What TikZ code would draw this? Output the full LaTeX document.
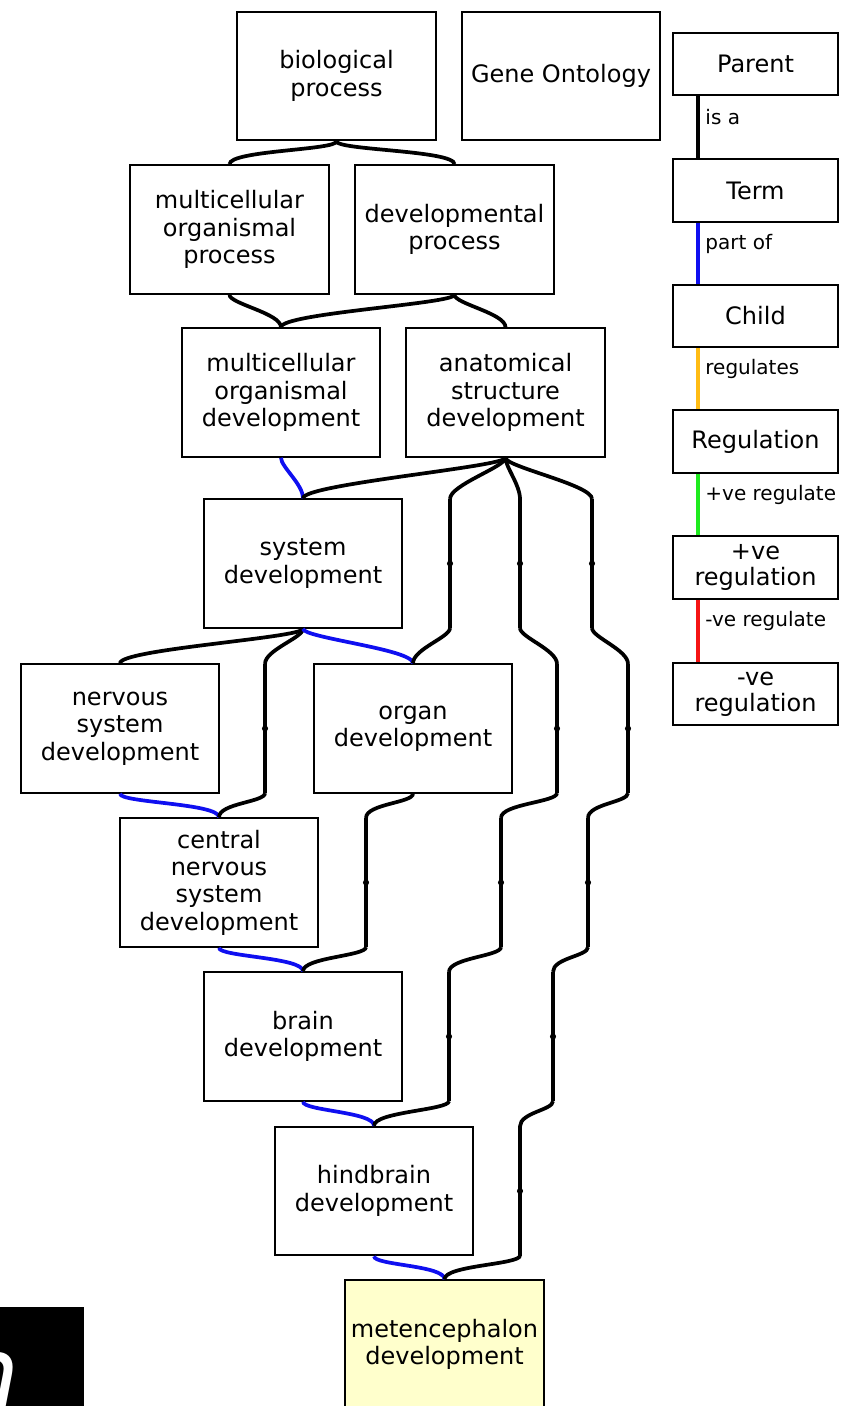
\documentclass[tikz,border=0pt]{standalone}
\usepackage{fontspec}
\setmainfont{DejaVu Sans}
\usepackage{tikz}
\usetikzlibrary{calc}
\definecolor{partblue}{RGB}{15,15,240}
\definecolor{regorange}{RGB}{255,188,20}
\definecolor{posgreen}{RGB}{30,235,30}
\definecolor{negred}{RGB}{245,20,20}
\definecolor{metyellow}{RGB}{255,255,204}
\tikzstyle{term}=[draw, line width=1.4pt, fill=white, align=center, inner sep=0pt, minimum width=149pt, minimum height=96.5pt, font=\fontsize{18}{20.5}\selectfont]
\tikzstyle{legendbox}=[term, minimum width=123.5pt, minimum height=47pt, font=\fontsize{18}{19.5}\selectfont]
\tikzstyle{dummy}=[inner sep=0pt, minimum width=0pt, minimum height=96.5pt]
\tikzstyle{edge}=[draw, line width=2.8pt, to path={.. controls ($(\tikztostart)+(0,9)$) and ($(\tikztotarget)+(0,-14)$) .. (\tikztotarget)}]
\tikzstyle{note}=[anchor=west, inner sep=0pt, font=\fontsize{15}{17}\selectfont]

\begin{document}
\begin{tikzpicture}[x=0.75pt, y=-0.75pt]
		\useasboundingbox (0,0) rectangle (848,1406);
		% First we draw the terms
		\foreach \pos/\label/\name in {
			{(336.5,76)/bio/biological\\process}, {(561,76)/go/Gene Ontology},
			{(229.5,229.5)/mop/multicellular\\organismal\\process}, {(454.5,229.5)/dev/developmental\\process},
			{(281,392.5)/mod/multicellular\\organismal\\development}, {(505.5,392.5)/asd/anatomical\\structure\\development},
			{(303,563.5)/sd/system\\development},
			{(120,728.5)/nsd/nervous\\system\\development}, {(413,728.5)/od/organ\\development},
			{(219,882.5)/cnsd/central\\nervous\\system\\development},
			{(303,1036.5)/bd/brain\\development},
			{(374,1191)/hd/hindbrain\\development}}
		\node[term] (\label) at \pos {\name};
		
		\node[term, fill=metyellow] (md) at (444.5,1344.5) {metencephalon\\development};
		
		% the key on the right
		\foreach \pos/\label/\name in {
			{(755.5,64)/kparent/Parent}, {(755.5,190.5)/kterm/Term}, {(755.5,316)/kchild/Child},
			{(755.5,441.5)/kreg/Regulation}, {(755.5,567.5)/kpos/+ve\\regulation}, {(755.5,694)/kneg/-ve\\regulation}}
		\node[legendbox] (\label) at \pos {\name};
		
		\foreach \source/\dest/\col/\rel in {
			kparent/kterm/black/is a, kterm/kchild/partblue/part of, kchild/kreg/regorange/regulates,
			kreg/kpos/posgreen/+ve regulate, kpos/kneg/negred/-ve regulate}
		\path[draw=\col, line width=2.8pt] ($(\source.south west)+(26,0)$) -- node[note, pos=0.34, xshift=4pt] {\rel} ($(\dest.north west)+(26,0)$);
		
		% dummy points where the long edges cross a rank
		\foreach \pos/\label in {
			{(450,563.5)/ao3}, {(520,563.5)/ah3}, {(592,563.5)/am3},
			{(265,728.5)/sc4}, {(557,728.5)/ah4}, {(628,728.5)/am4},
			{(366,882.5)/ob5}, {(501,882.5)/ah5}, {(588,882.5)/am5},
			{(449,1036.5)/ah6}, {(553,1036.5)/am6}, {(520,1191)/am7}}
		\node[dummy] (\label) at \pos {};
		
		% Connect terms with edges
		\foreach \source/\dest/\col in {
			bio/mop/black, bio/dev/black, mop/mod/black, dev/mod/black, dev/asd/black,
			mod/sd/partblue, asd/sd/black, asd/ao3/black, asd/ah3/black, asd/am3/black,
			sd/nsd/black, sd/sc4/black, sd/od/partblue, ao3/od/black, ah3/ah4/black, am3/am4/black,
			nsd/cnsd/partblue, sc4/cnsd/black, od/ob5/black, ah4/ah5/black, am4/am5/black,
			cnsd/bd/partblue, ob5/bd/black, ah5/ah6/black, am5/am6/black,
			bd/hd/partblue, ah6/hd/black, am6/am7/black,
			hd/md/partblue, am7/md/black}
		\path[edge, draw=\col] (\source.south) to (\dest.north);
		
		\foreach \label in {ao3, ah3, am3, sc4, ah4, am4, ob5, ah5, am5, ah6, am6, am7}
		{\path[edge] (\label.north) -- (\label.south); \fill (\label) circle (2.3pt);}
		
		% black corner bottom left
		\fill (0,1307) rectangle (84,1406);
		\begin{scope}
		\clip (0,1307) rectangle (84,1406);
		\node[anchor=base west, inner sep=0pt, text=white, font=\fontsize{75}{75}\selectfont\itshape] (corner) at (-44,1408) {n};
		\end{scope}
\end{tikzpicture}
\end{document}
